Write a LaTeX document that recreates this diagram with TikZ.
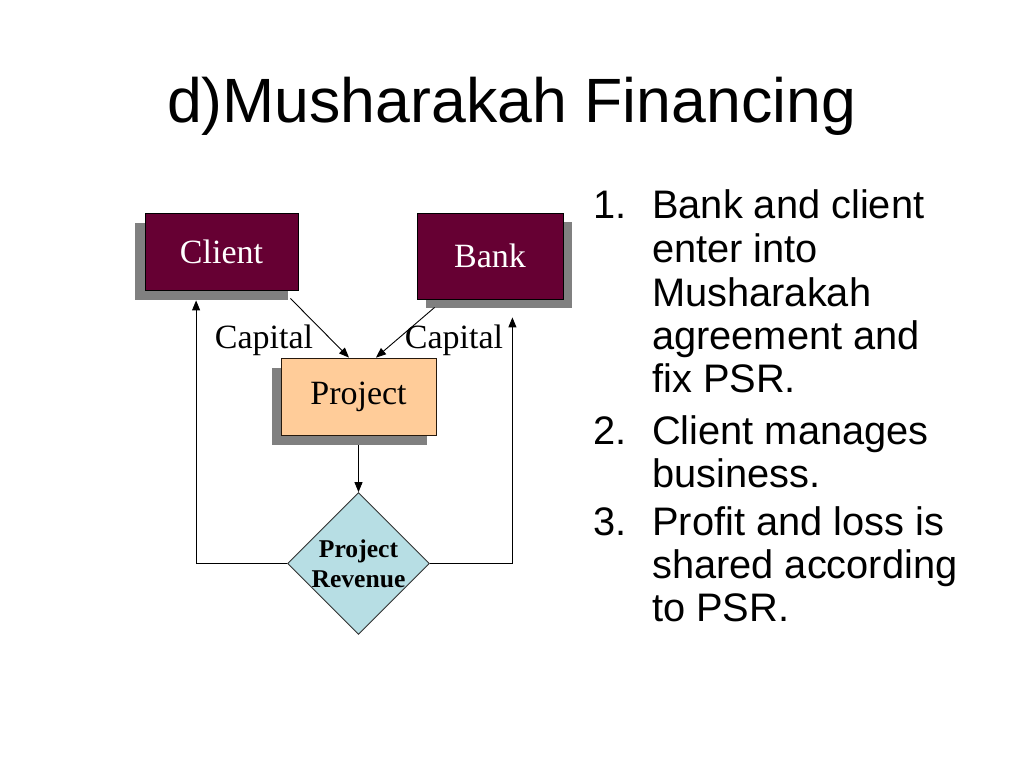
\documentclass[tikz,border=0pt]{standalone}
\usepackage{fontspec}
\setmainfont{Liberation Serif}
\setsansfont{Liberation Sans}
\usetikzlibrary{arrows.meta,shapes.geometric,shadows,calc}
\definecolor{boxmaroon}{RGB}{102,0,51}
\definecolor{projfill}{RGB}{255,204,153}
\definecolor{revfill}{RGB}{183,222,228}
\definecolor{shadowgray}{RGB}{128,128,128}
\tikzset{
  darkbox/.style={draw=black, line width=0.8pt, fill=boxmaroon, text=white, inner sep=0pt,
     font=\fontsize{34}{36}\selectfont},
  projbox/.style={draw=black!80!brown, line width=0.8pt, fill=projfill, inner sep=0pt,
     font=\fontsize{34}{36}\selectfont},
  revshape/.style={diamond, draw=black!80, line width=0.8pt, fill=revfill, inner sep=0pt,
     minimum width=137pt, minimum height=137pt, align=center,
     font=\fontsize{25.6}{30}\selectfont\bfseries},
  caplabel/.style={font=\fontsize{34}{36}\selectfont, inner sep=0pt, anchor=base},
  conn/.style={line width=0.9pt, draw=black},
  arr/.style={conn, -{Triangle[length=10pt,width=8pt]}},
  listtext/.style={font=\sffamily\fontsize{39.8}{43.75}\selectfont, inner sep=0pt, anchor=base west},
}
\begin{document}
\begin{tikzpicture}[x=1pt,y=-1pt]
\useasboundingbox[fill=white] (0,0) rectangle (1024,768);

% title
\node[font=\sffamily\fontsize{62.6}{66}\selectfont, inner sep=0pt, anchor=base] (title) at (511.5,122) {d)Musharakah Financing};

% boxes
\node[darkbox, minimum width=153pt, minimum height=77pt,
  drop shadow={shadow xshift=-10pt, shadow yshift=-10pt, fill=shadowgray, opacity=1}]
  (client) at (221.5,251.5) {Client};
\node[darkbox, minimum width=146pt, minimum height=86pt,
  drop shadow={shadow xshift=9pt, shadow yshift=-9pt, fill=shadowgray, opacity=1}]
  (bank) at (490,256) {Bank};
\node[projbox, minimum width=155pt, minimum height=77pt,
  drop shadow={shadow xshift=-9pt, shadow yshift=-10pt, fill=shadowgray, opacity=1}]
  (project) at (358.5,396.5) {Project};
\node[revshape] (rev) at (358.5,563.5) {Project\\Revenue};

% labels
\node[caplabel] (cap1) at (264,348) {Capital};
\node[caplabel] (cap2) at (454,348) {Capital};

% connectors
\draw[arr] ([xshift=-8pt,yshift=-8pt]client.south east) -- ([xshift=-9.5pt]project.north);
\draw[arr] ([xshift=18pt,yshift=-8pt]bank.south west) -- ([xshift=17.5pt]project.north);
\draw[arr] ([yshift=-10pt]project.south) -- (rev.north);
\draw[arr] (rev.west) -| ([xshift=51.5pt,yshift=-10pt]client.south west);
\draw[arr] (rev.east) -| ([xshift=-51pt,yshift=-18pt]bank.south east);

% list
\node[listtext] (n1) at (593,218) {1.};
\node[listtext] (l11) at (652,218) {Bank and client};
\node[listtext] (l12) at (652,262) {enter into};
\node[listtext] (l13) at (652,306) {Musharakah};
\node[listtext] (l14) at (652,349) {agreement and};
\node[listtext] (l15) at (652,392) {fix PSR.};
\node[listtext] (n2) at (593,444) {2.};
\node[listtext] (l21) at (652,444) {Client manages};
\node[listtext] (l22) at (652,487) {business.};
\node[listtext] (n3) at (593,535) {3.};
\node[listtext] (l31) at (652,535) {Profit and loss is};
\node[listtext] (l32) at (652,578) {shared according};
\node[listtext] (l33) at (652,621) {to PSR.};
\end{tikzpicture}
\end{document}
